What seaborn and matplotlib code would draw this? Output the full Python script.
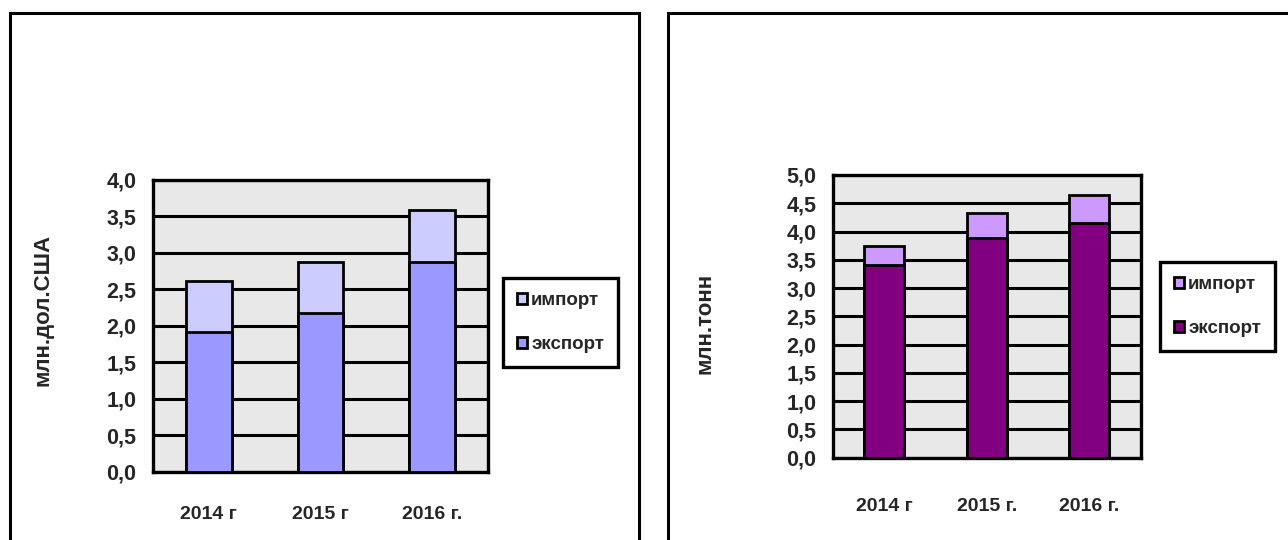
import matplotlib
matplotlib.use("Agg")
import matplotlib.pyplot as plt
from matplotlib.patches import Patch, Rectangle
import seaborn as sns
import pandas as pd

# Values: left panel in million US dollars, right panel in million tonnes
years_left = ["2014 г", "2015 г", "2016 г."]
export_usd = [1.92, 2.17, 2.88]
import_usd = [0.69, 0.71, 0.71]

years_right = ["2014 г", "2015 г.", "2016 г."]
export_t = [3.40, 3.89, 4.15]
import_t = [0.35, 0.44, 0.50]

ytick_left = ["0,0", "0,5", "1,0", "1,5", "2,0", "2,5", "3,0", "3,5", "4,0"]
ytick_right = ["0,0", "0,5", "1,0", "1,5", "2,0", "2,5", "3,0", "3,5", "4,0", "4,5", "5,0"]

sns.set_theme(style="white")
plt.rcParams["font.family"] = ["Liberation Sans", "DejaVu Sans"]
plt.rcParams["font.weight"] = "bold"

W, H = 1288, 540
fig = plt.figure(figsize=(W / 100, H / 100), dpi=100)


def fx(px):
    return px / W


def fy(py):
    return 1 - py / H


# outer frames around each panel
for x0, x1 in [(9.5, 639), (667.5, 1300)]:
    fig.add_artist(Rectangle((fx(x0), -0.1), fx(x1 - x0), fy(12.5) + 0.1,
                             transform=fig.transFigure, fill=False,
                             edgecolor="black", linewidth=2.2, clip_on=False))


def panel(rect, years, export, imp, c_exp, c_imp, ticks, tlabels, ylim,
          width, xpad, legend_xy, ylabel, ylabel_xy):
    ax = fig.add_axes(rect)
    total = [e + i for e, i in zip(export, imp)]
    df = pd.DataFrame({"year": years, "export": export, "total": total})
    sns.barplot(data=df, x="year", y="total", color=c_imp, saturation=1,
                width=width, edgecolor="black", linewidth=2, ax=ax, zorder=3)
    sns.barplot(data=df, x="year", y="export", color=c_exp, saturation=1,
                width=width, edgecolor="black", linewidth=2, ax=ax, zorder=4)
    ax.set_facecolor("#E8E8E8")
    ax.set_xlim(-0.5, 2.5)
    ax.set_ylim(*ylim)
    ax.set_yticks(ticks)
    ax.set_yticklabels(tlabels, fontsize=15.5, fontweight="bold")
    ax.yaxis.grid(True, color="black", linewidth=2.2, zorder=0)
    ax.set_axisbelow(True)
    ax.set_xticks(range(len(years)))
    ax.set_xticklabels(years, fontsize=14, fontweight="bold")
    ax.set_xticks([-0.5, 0.5, 1.5, 2.5], minor=True)
    ax.tick_params(axis="x", which="major", length=0, pad=xpad)
    ax.tick_params(axis="x", which="minor", length=6, width=2.2,
                   direction="out", color="black")
    ax.tick_params(axis="y", length=7, width=2.2, direction="out",
                   color="black", pad=5)
    ax.set_xlabel("")
    ax.set_ylabel("")
    for s in ax.spines.values():
        s.set_visible(True)
        s.set_color("black")
        s.set_linewidth(2.4)
    handles = [Patch(facecolor=c_imp, edgecolor="black", linewidth=2, label="импорт"),
               Patch(facecolor=c_exp, edgecolor="black", linewidth=2, label="экспорт")]
    leg = fig.legend(handles=handles, loc="upper left",
                     bbox_to_anchor=(fx(legend_xy[0]), fy(legend_xy[1])),
                     frameon=True, fancybox=False, framealpha=1,
                     edgecolor="black", handlelength=0.55, handleheight=0.55,
                     handletextpad=0.2, labelspacing=1.45, borderpad=0.75,
                     borderaxespad=0, prop={"size": 13.5, "weight": "bold"})
    leg.get_frame().set_linewidth(2.4)
    fig.text(fx(ylabel_xy[0]), fy(ylabel_xy[1]), ylabel, rotation=90,
             ha="center", va="center", fontsize=16, fontweight="bold")
    return ax


panel([fx(153), fy(471.5), fx(488 - 153), (471.5 - 180) / H],
      years_left, export_usd, import_usd, "#9999FF", "#CCCCFF",
      [0, 0.5, 1, 1.5, 2, 2.5, 3, 3.5, 4], ytick_left, (0, 4),
      0.41, 25, (503, 278), "млн.дол.США", (43, 310))

panel([fx(833), fy(457.7), fx(1140.7 - 833), (457.7 - 175) / H],
      years_right, export_t, import_t, "#800080", "#CC99FF",
      [0, 0.5, 1, 1.5, 2, 2.5, 3, 3.5, 4, 4.5, 5], ytick_right, (0, 5),
      0.39, 29, (1160, 262), "млн.тонн", (705, 323))

fig.savefig("out.png", dpi=100)
